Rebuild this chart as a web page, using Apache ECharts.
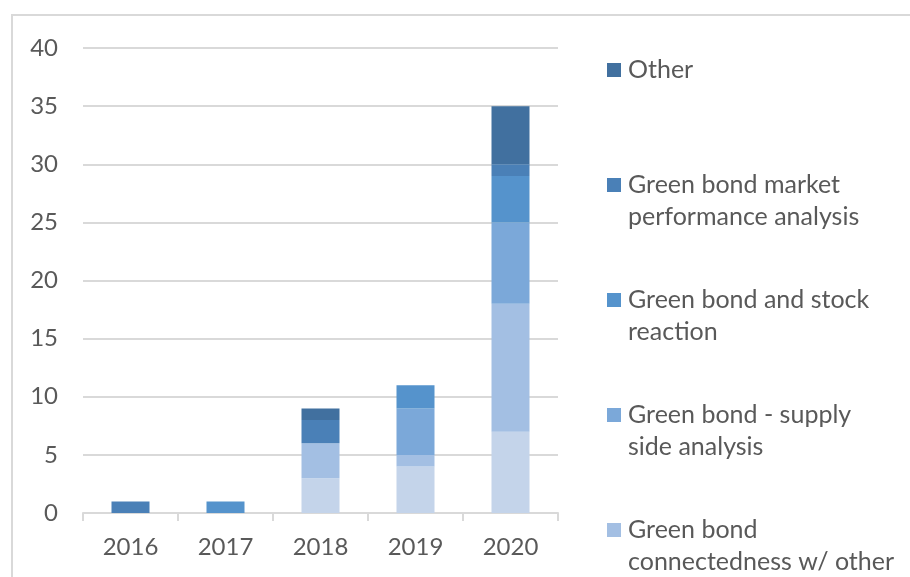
<!DOCTYPE html>
<html>
<head>
<meta charset="utf-8">
<script src="https://cdn.jsdelivr.net/npm/echarts@6/dist/echarts.min.js"></script>
<style>
  html, body { margin: 0; padding: 0; background: #fff; }
  #chart { width: 910px; height: 577px; }
</style>
</head>
<body>
<div id="chart"></div>
<script>
// data
var years = ['2016', '2017', '2018', '2019', '2020'];
var lowest = [0, 0, 3, 4, 7];          // bottom series, its legend entry is cut off
var connectedness = [0, 0, 3, 1, 11];
var supplySide = [0, 0, 0, 4, 7];
var stockReaction = [0, 1, 0, 2, 4];
var marketPerf = [1, 0, 2, 0, 1];
var other = [0, 0, 1, 0, 5];

var names = [
    'Green bond pricing',
    'Green bond\nconnectedness w/ other',
    'Green bond - supply\nside analysis',
    'Green bond and stock\nreaction',
    'Green bond market\nperformance analysis',
    'Other'
];
var colors = ['#c4d4ea', '#a3bfe3', '#7ba8d9', '#5593cc', '#4a80b7', '#41709f'];
var values = [lowest, connectedness, supplySide, stockReaction, marketPerf, other];

var legendOrder = [5, 4, 3, 2, 1];
var legendLeft = 607, legendFirstY = 70, legendStep = 115, lineH = 32;
var textColor = '#595959';
var fontSize = 24, legendFont = 25;

var myChart = echarts.init(document.getElementById('chart'));

var series = values.map(function (v, i) {
    return {
        name: names[i],
        type: 'bar',
        stack: 'total',
        barWidth: 38,
        itemStyle: { color: colors[i] },
        data: v
    };
});

// the legend shows the first line, the second line is drawn under it
var graphics = [{
    type: 'rect',
    shape: { x: 12, y: 15, width: 920, height: 600 },
    style: { fill: 'none', stroke: '#d9d9d9', lineWidth: 2 },
    silent: true
}];
legendOrder.forEach(function (idx, k) {
    var parts = names[idx].split('\n');
    if (parts.length > 1) {
        graphics.push({
            type: 'text',
            left: legendLeft + 14 + 7,
            top: legendFirstY + k * legendStep + lineH / 2,
            silent: true,
            style: {
                text: parts[1],
                fill: textColor,
                font: legendFont + 'px Lato',
                lineHeight: lineH
            }
        });
    }
});

var option = {
    animation: false,
    textStyle: { fontFamily: 'Lato' },
    graphic: graphics,
    grid: { left: 83, right: 352, top: 48, bottom: 64 },
    legend: {
        orient: 'vertical',
        left: legendLeft,
        top: legendFirstY - lineH / 2,
        padding: 0,
        itemWidth: 14,
        itemHeight: 14,
        itemGap: legendStep - lineH,
        icon: 'rect',
        selectedMode: false,
        formatter: function (name) { return name.split('\n')[0]; },
        textStyle: {
            fontSize: legendFont, color: textColor, lineHeight: lineH,
            fontFamily: 'Lato', padding: [0, 0, 0, 2]
        },
        data: legendOrder.map(function (i) { return names[i]; })
    },
    xAxis: {
        type: 'category',
        data: years,
        axisLine: { lineStyle: { color: '#d9d9d9', width: 2 } },
        axisTick: { show: true, length: 8, lineStyle: { color: '#d9d9d9', width: 2 } },
        axisLabel: { fontSize: fontSize, color: textColor, margin: 22 }
    },
    yAxis: {
        type: 'value',
        min: 0,
        max: 40,
        interval: 5,
        axisLine: { show: false },
        axisTick: { show: false },
        axisLabel: { fontSize: fontSize, color: textColor, margin: 25 },
        splitLine: { lineStyle: { color: '#d9d9d9', width: 2 } }
    },
    series: series
};

myChart.setOption(option);
</script>
</body>
</html>
